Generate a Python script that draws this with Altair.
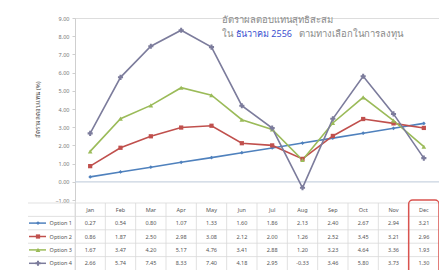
import altair as alt
import pandas as pd

months = ["Jan", "Feb", "Mar", "Apr", "May", "Jun", "Jul", "Aug", "Sep", "Oct", "Nov", "Dec"]
series = ["Option 1", "Option 2", "Option 3", "Option 4"]
opt1 = [0.27, 0.54, 0.80, 1.07, 1.33, 1.60, 1.86, 2.13, 2.40, 2.67, 2.94, 3.21]
opt2 = [0.86, 1.87, 2.50, 2.98, 3.08, 2.12, 2.00, 1.26, 2.52, 3.45, 3.21, 2.96]
opt3 = [1.67, 3.47, 4.20, 5.17, 4.76, 3.41, 2.88, 1.20, 3.23, 4.64, 3.36, 1.93]
opt4 = [2.66, 5.74, 7.45, 8.33, 7.40, 4.18, 2.95, -0.33, 3.46, 5.80, 3.73, 1.30]
colors = ["#4F81BD", "#C0504D", "#9BBB59", "#7C7C9C"]
shapes = ["diamond", "square", "triangle-up", "cross"]
sizes = [14, 26, 20, 7]
y_ticks = [-1, 0, 1, 2, 3, 4, 5, 6, 7, 8, 9]
title_line1 = "อัตราผลตอบแทนสุทธิสะสม"
title_line2 = ["ใน", "ธันวาคม 2556", "ตามทางเลือกในการลงทุน"]
y_title = "อัตราผลตอบแทน (%)"
header_key = "hdr"

W, H = 364, 252
FONT = "Noto Sans"

values = [opt1, opt2, opt3, opt4]
line_df = pd.DataFrame(
    [{"month": m, "series": s, "value": v}
     for s, vals in zip(series, values) for m, v in zip(months, vals)]
)
rows = [header_key] + series
table_df = pd.DataFrame(
    [{"row": header_key, "month": m, "label": m} for m in months]
    + [{"row": s, "month": m, "label": f"{v:.2f}"}
       for s, vals in zip(series, values) for m, v in zip(months, vals)]
)
series_df = pd.DataFrame({"row": series, "series": series})
rows_df = pd.DataFrame({"row": rows})
months_df = pd.DataFrame({"month": months})

xs = alt.Scale(type="band", domain=months, paddingInner=0, paddingOuter=0)
color = alt.Color("series:N", scale=alt.Scale(domain=series, range=colors), legend=None)
shape = alt.Shape("series:N", scale=alt.Scale(domain=series, range=shapes), legend=None)
size = alt.Size("series:N", scale=alt.Scale(domain=series, range=sizes), legend=None)

ys = alt.Scale(domain=[-1, 9], range=[182, 0], nice=False, zero=False)
yaxis = alt.Axis(values=y_ticks, format=".2f", labelFontSize=5.5, labelColor="#777",
                 grid=False, domainColor="#cfcfcf", tickColor="#cfcfcf", tickSize=3,
                 labelPadding=3, title=y_title, titleFontSize=6, titleColor="#444",
                 titleFontWeight="normal", titlePadding=14)

xenc = alt.X("month:N", scale=xs, axis=None, bandPosition=0.5)

zero = alt.Chart(pd.DataFrame({"value": [0]})).mark_rule(color="#c9d3e0", strokeWidth=1.2).encode(
    y=alt.Y("value:Q", scale=ys, axis=yaxis))
lines = alt.Chart(line_df).mark_line(strokeWidth=1.6).encode(
    x=xenc, y=alt.Y("value:Q", scale=ys, axis=yaxis), color=color)
points = alt.Chart(line_df).mark_point(filled=True, opacity=1).encode(
    x=xenc, y=alt.Y("value:Q", scale=ys, axis=yaxis), color=color, shape=shape, size=size)
plot = alt.layer(zero, lines, points)

ry = alt.Scale(type="band", domain=rows, range=[185, 252], paddingInner=0, paddingOuter=0)
grid_col = "#d9d9d9"
hgrid = alt.Chart(rows_df).mark_rule(color=grid_col, strokeWidth=0.8).encode(
    y=alt.Y("row:N", scale=ry, axis=None, bandPosition=0), x=alt.value(-47), x2=alt.value(W))
vgrid = alt.Chart(months_df).mark_rule(color=grid_col, strokeWidth=0.8).encode(
    x=alt.X("month:N", scale=xs, axis=None, bandPosition=0), y=alt.value(185), y2=alt.value(252))
cells = alt.Chart(table_df).mark_text(fontSize=5.5, color="#555", font=FONT).encode(
    x=xenc, y=alt.Y("row:N", scale=ry, axis=None, bandPosition=0.5), text="label:N")
row_labels = alt.Chart(series_df).mark_text(align="right", fontSize=5.5, color="#555", font=FONT).encode(
    x=alt.value(-3), y=alt.Y("row:N", scale=ry, axis=None, bandPosition=0.5), text="row:N")
leg_line = alt.Chart(series_df).mark_rule(strokeWidth=1.5).encode(
    x=alt.value(-46), x2=alt.value(-29), y=alt.Y("row:N", scale=ry, axis=None, bandPosition=0.5), color=color)
leg_pt = alt.Chart(series_df).mark_point(filled=True, opacity=1).encode(
    x=alt.value(-37), y=alt.Y("row:N", scale=ry, axis=None, bandPosition=0.5),
    color=color, shape=shape, size=size)
red_box = alt.Chart(pd.DataFrame({"month": ["Dec"]})).mark_rect(
    fillOpacity=0, stroke="#D9534F", strokeWidth=1.5, cornerRadius=4).encode(
    x=alt.X("month:N", scale=xs, axis=None), y=alt.value(182), y2=alt.value(262))
table = alt.layer(hgrid, vgrid, cells, row_labels, leg_line, leg_pt, red_box)

t1 = alt.Chart(pd.DataFrame({"t": [title_line1]})).mark_text(
    align="left", baseline="middle", fontSize=9.5, color="#8a8a8a", font=FONT).encode(
    x=alt.value(147), y=alt.value(2), text="t:N")
t2a = alt.Chart(pd.DataFrame({"t": [title_line2[0]]})).mark_text(
    align="left", baseline="middle", fontSize=9.5, color="#8a8a8a", font=FONT).encode(
    x=alt.value(147), y=alt.value(16), text="t:N")
t2b = alt.Chart(pd.DataFrame({"t": [title_line2[1]]})).mark_text(
    align="left", baseline="middle", fontSize=9, color="#3a4fd0", font=FONT).encode(
    x=alt.value(161), y=alt.value(16), text="t:N")
t2c = alt.Chart(pd.DataFrame({"t": [title_line2[2]]})).mark_text(
    align="left", baseline="middle", fontSize=9.5, color="#8a8a8a", font=FONT).encode(
    x=alt.value(224), y=alt.value(16), text="t:N")
titles = alt.layer(t1, t2a, t2b, t2c)

chart = alt.layer(plot, table, titles).resolve_scale(y="independent").properties(
    width=W, height=H,
    autosize=alt.AutoSizeParams(type="none"),
    padding={"left": 67, "top": 10, "right": 0, "bottom": 0},
).configure_view(stroke=None).configure(font=FONT)

chart.save("out.html", embed_options={"renderer": "svg", "actions": False})
